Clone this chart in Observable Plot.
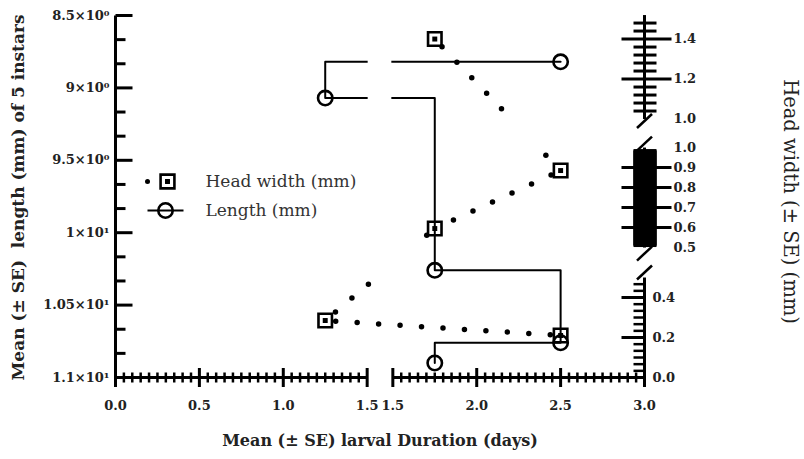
<!DOCTYPE html>
<html><head><meta charset="utf-8">
<script src="https://cdn.jsdelivr.net/npm/d3@7"></script>
<script src="https://cdn.jsdelivr.net/npm/@observablehq/plot@0.6"></script>
<style>body{margin:0;background:#fff}</style>
</head><body><div id="chart"></div>
<script>
// ---------------- data ----------------
const lengthDuration = [2.5, 1.25, 1.75, 2.5, 1.75];
const lengthMm = [8.82, 9.07, 10.26, 10.76, 10.90];
const headDuration = [1.75, 2.5, 1.75, 1.25, 2.5];
const headWidthMm = [1.40, 0.885, 0.595, 0.285, 0.21];
const seriesNames = ["Head width (mm)", "Length (mm)"];
const leftTicks = [8.5, 9, 9.5, 10, 10.5, 11];
const leftTickLabels = ["8.5×10⁰", "9×10⁰", "9.5×10⁰", "1×10¹", "1.05×10¹", "1.1×10¹"];
const xTicksLeft = [0, 0.5, 1.0, 1.5];
const xTicksRight = [1.5, 2.0, 2.5, 3.0];
const hwTicksTop = [1.4, 1.2, 1.0];
const hwTicksMid = [1.0, 0.9, 0.8, 0.7, 0.6, 0.5];
const hwTicksBottom = [0.4, 0.2, 0.0];
const xTitle = "Mean (± SE) larval Duration (days)";
const yTitle = "Mean (± SE)  length (mm) of 5 instars";
const y2Title = "Head width (± SE) (mm)";

// ---------------- broken-axis geometry ----------------
const GAP = 0.153;                       // x-axis break width
const xb = v => v > 1.5 ? v + GAP : v;   // data x on broken axis
const xR = v => v + GAP;                 // right-segment tick
const K = 1.381;                         // left-units per head-width unit
const hwSegs = [
  {lo: 1.0, hi: 1.52, Lhi: 8.5245 - 0.02 * K},
  {lo: 0.5, hi: 1.0, Lhi: 9.412},
  {lo: 0.0, hi: 0.5, Lhi: 10.3095}
];
const [TOP, MID, BOT] = hwSegs;
const segL = (s, h) => s.Lhi + (s.hi - h) * K;
const segOf = h => h > 1.0 ? TOP : h >= 0.5 ? MID : BOT;
const hwL = h => segL(segOf(h), h);

const lengthPts = lengthDuration.map((d, i) => ({x: xb(d), y: lengthMm[i]}));
const headPts = headDuration.map((d, i) => ({x: xb(d), y: hwL(headWidthMm[i])}));

// dotted connecting line, clipped to the head-width axis segments
const pieces = [];
let zid = 0;
for (let i = 0; i < headPts.length - 1; i++) {
  const P = headPts[i], Q = headPts[i + 1];
  for (const s of hwSegs) {
    const a = s.Lhi, b = segL(s, s.lo);
    const dL = Q.y - P.y;
    let t0 = 0, t1 = 1;
    if (Math.abs(dL) < 1e-9) { if (P.y < a || P.y > b) continue; }
    else {
      let ta = (a - P.y) / dL, tb = (b - P.y) / dL;
      if (ta > tb) [ta, tb] = [tb, ta];
      t0 = Math.max(0, ta); t1 = Math.min(1, tb);
      if (t1 <= t0) continue;
    }
    zid++;
    for (const t of [t0, t1]) pieces.push({x: P.x + (Q.x - P.x) * t, y: P.y + dL * t, z: zid});
  }
}

// tick geometry
const seg = (x0, y0, x1, y1) => ({draw(ctx) { ctx.moveTo(x0, y0); ctx.lineTo(x1, y1); }});
const xMinorL = d3.range(1, 30).filter(k => k % 10).map(k => k * 0.05);
const xMinorR = d3.range(1, 30).filter(k => k % 10).map(k => xR(1.5 + k * 0.05));
const leftMinor = d3.range(1, 15).filter(k => k % 3).map(k => 8.5 + k / 6);
const topMinor = d3.range(1, 13).filter(k => k % 5).map(k => segL(TOP, 1.0 + k * 0.04));
const midMinor = d3.range(2, 98).map(k => segL(MID, 0.5 + k * 0.005));
const botMinor = d3.range(1, 15).filter(k => k % 6).map(k => segL(BOT, k * 0.2 / 6));

const spines = [
  {x1: 0, y1: 8.5, x2: 0, y2: 11},
  {x1: 0, y1: 11, x2: 1.5, y2: 11},
  {x1: xR(1.5), y1: 11, x2: xR(3), y2: 11},
  {x1: xR(3), y1: segL(TOP, 1.52), x2: xR(3), y2: segL(TOP, 1.0)},
  {x1: xR(3), y1: segL(MID, 1.0), x2: xR(3), y2: segL(MID, 0.5)},
  {x1: xR(3), y1: segL(BOT, 0.5), x2: xR(3), y2: segL(BOT, 0)}
];
const breaks = [segL(TOP, 0.99), segL(MID, 1.02), segL(MID, 0.47), segL(BOT, 0.525)];

const F = "DejaVu Serif";
const lab = {fontFamily: F, fontWeight: "bold", fontSize: 13, fill: "#222"};
const blk = {stroke: "black", fill: "none"};
const X3 = xR(3);
const legText = {frameAnchor: "top-left", text: d => d, textAnchor: "start", lineAnchor: "middle", fontSize: 17, fill: "#333"};

const chart = Plot.plot({
  width: 804, height: 459,
  marginLeft: 115, marginRight: 160, marginTop: 15, marginBottom: 82,
  x: {domain: [0, 3 + GAP], axis: null},
  y: {domain: [8.5, 11], reverse: true, axis: null},
  style: {fontFamily: F, background: "white", overflow: "visible"},
  marks: [
    // length step line
    Plot.line(lengthPts, {x: "x", y: "y", curve: "step-after", stroke: "black", strokeWidth: 2}),
    // x-axis gap
    Plot.rect([0], {x1: 1.5, x2: xR(1.5), y1: 8.5, y2: 11, fill: "white", insetLeft: 1, insetRight: 1}),
    // head width dotted line
    Plot.line(pieces, {x: "x", y: "y", z: "z", stroke: "black", strokeWidth: 5.5, strokeLinecap: "round",
      strokeDasharray: "0 21.5", strokeDashoffset: 11}),
    // markers
    Plot.dot(lengthPts, {x: "x", y: "y", r: 7.2, ...blk, strokeWidth: 2.6}),
    Plot.dot(headPts, {x: "x", y: "y", symbol: "square", r: 7.6, ...blk, strokeWidth: 2.6}),
    Plot.dot(headPts, {x: "x", y: "y", symbol: "square", r: 2.8, fill: "black"}),
    // spines
    Plot.link(spines, {x1: "x1", y1: "y1", x2: "x2", y2: "y2", stroke: "black", strokeWidth: 3}),
    // x ticks
    Plot.dot([...xTicksLeft, ...xTicksRight.map(xR)], {x: d => d, y: () => 11, symbol: seg(0, -9.5, 0, 9.5), ...blk, strokeWidth: 3}),
    Plot.dot([...xMinorL, ...xMinorR], {x: d => d, y: () => 11, symbol: seg(0, -5, 0, 5), ...blk, strokeWidth: 2.5}),
    Plot.text(xTicksLeft, {x: d => d, y: () => 11, dy: 28, text: d => d.toFixed(1), ...lab}),
    Plot.text(xTicksRight, {x: d => xR(d), y: () => 11, dy: 28, text: d => d.toFixed(1), ...lab}),
    // left y ticks
    Plot.dot(leftTicks, {x: () => 0, y: d => d, symbol: seg(0, 0, 17, 0), ...blk, strokeWidth: 3}),
    Plot.dot(leftMinor, {x: () => 0, y: d => d, symbol: seg(0, 0, 10, 0), ...blk, strokeWidth: 3}),
    Plot.text(leftTicks, {x: () => 0, y: d => d, dx: -6, textAnchor: "end", text: (d, i) => leftTickLabels[i], ...lab}),
    // right head-width axis
    Plot.dot(topMinor, {x: () => X3, y: d => d, symbol: seg(-11, 0, 12, 0), ...blk, strokeWidth: 3}),
    Plot.dot(midMinor, {x: () => X3, y: d => d, symbol: seg(-11, 0, 12, 0), ...blk, strokeWidth: 3}),
    Plot.dot(botMinor, {x: () => X3, y: d => d, symbol: seg(-11, 0, 0, 0), ...blk, strokeWidth: 2.5}),
    Plot.dot([1.2, 1.4].map(h => segL(TOP, h)).concat([0.6, 0.7, 0.8, 0.9].map(h => segL(MID, h))),
      {x: () => X3, y: d => d, symbol: seg(-23, 0, 27, 0), ...blk, strokeWidth: 3}),
    Plot.dot([0.2, 0.4].map(h => segL(BOT, h)), {x: () => X3, y: d => d, symbol: seg(-23, 0, 0, 0), ...blk, strokeWidth: 3}),
    Plot.text(hwTicksTop, {x: () => X3, y: d => segL(TOP, d), dx: 29, textAnchor: "start", text: d => d.toFixed(1), ...lab}),
    Plot.text(hwTicksMid, {x: () => X3, y: d => segL(MID, d), dx: 29, textAnchor: "start", text: d => d.toFixed(1), ...lab}),
    Plot.text(hwTicksBottom, {x: () => X3, y: d => segL(BOT, d), dx: 8, textAnchor: "start", text: d => d.toFixed(1), ...lab}),
    Plot.dot(breaks, {x: () => X3, y: d => d, symbol: seg(-7.5, 7, 7.5, -7), ...blk, strokeWidth: 2.5}),
    // legend
    Plot.dot([0], {frameAnchor: "top-left", dx: 32, dy: 166, r: 2.5, fill: "black"}),
    Plot.dot([0], {frameAnchor: "top-left", dx: 52, dy: 166, symbol: "square", r: 7.8, ...blk, strokeWidth: 2.6}),
    Plot.dot([0], {frameAnchor: "top-left", dx: 52, dy: 166, symbol: "square", r: 2.8, fill: "black"}),
    Plot.dot([0], {frameAnchor: "top-left", dx: 50, dy: 195, symbol: seg(-18, 0, 18, 0), ...blk, strokeWidth: 2}),
    Plot.dot([0], {frameAnchor: "top-left", dx: 50, dy: 195, r: 7.2, ...blk, strokeWidth: 2.6}),
    Plot.text([seriesNames[0]], {...legText, dx: 90, dy: 166}),
    Plot.text([seriesNames[1]], {...legText, dx: 90, dy: 195}),
    // titles
    Plot.text([xTitle], {frameAnchor: "bottom", dy: 63, lineAnchor: "middle", textAnchor: "middle", text: d => d, fontWeight: "bold", fontSize: 16, fill: "#222"}),
    Plot.text([yTitle], {frameAnchor: "left", dx: -97, dy: 1, rotate: -90, textAnchor: "middle", lineAnchor: "middle", text: d => d, fontWeight: "bold", fontSize: 17, fill: "#222"}),
    Plot.text([y2Title], {frameAnchor: "right", dx: 146, dy: 5, rotate: 90, textAnchor: "middle", lineAnchor: "middle", text: d => d, fontSize: 19.5, fill: "#222"})
  ]
});
document.getElementById("chart").append(chart);
</script>
</body></html>
